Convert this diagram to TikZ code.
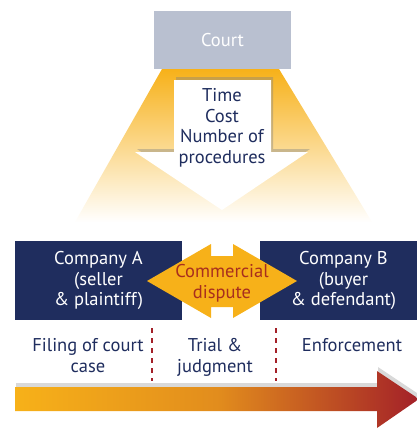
\documentclass[tikz,border=0pt]{standalone}
\usepackage{fontspec}
\setmainfont{PT Sans}
\usetikzlibrary{shadows}
\definecolor{navy}{RGB}{31,45,94}
\definecolor{courtgray}{RGB}{185,192,208}
\definecolor{amber}{RGB}{247,177,25}
\definecolor{rust}{RGB}{163,32,40}
\definecolor{disputered}{RGB}{168,46,30}
\tikzset{
  boxtext/.style={align=center,font=\fontsize{18.5}{20.8}\selectfont},
  companybox/.style={boxtext,fill=navy,text=white,minimum width=167pt,minimum height=79pt,inner sep=0pt},
  phaselabel/.style={boxtext,anchor=north,text=navy,inner sep=0pt},
  phaseline/.style={draw=rust,line width=2pt,dash pattern=on 5pt off 5pt}
}
\begin{document}
\begin{tikzpicture}[x=1pt,y=1pt,yscale=-1,xscale=1]
\useasboundingbox (0,0) rectangle (417,447);

%Shape: light cone under the court
\shade [top color=amber,bottom color=white]  (162,69) -- (279,69) -- (372,222) -- (75,222) -- cycle ;
%Shape: white arrow
\draw [fill=white,draw=none,drop shadow={opacity=0.4,shadow xshift=2pt,shadow yshift=3pt}]  (174,80) -- (271,80) -- (271,152) -- (308,152) -- (222,210) -- (135,152) -- (174,152) -- cycle ;

% Text Node
\node [boxtext,fill=courtgray,text=white,minimum width=137pt,minimum height=58pt,inner sep=0pt] (court) at (222.5,40) {Court};
% Text Node
\node [boxtext,text=navy,anchor=north,inner sep=0pt] (measures) at (222,88) {Time\\Cost\\Number of\\procedures};

% Text Node
\node [companybox] (compA) at (98.5,280.5) {Company A\\(seller\\\& plaintiff)};
% Text Node
\node [companybox] (compB) at (343.5,280.5) {Company B\\(buyer\\\& defendant)};

%Shape: double arrow between the companies
\fill [amber]  (147,281) -- (211,244) -- (211,256) -- (233,256) -- (233,244) -- (297,281) -- (233,318) -- (233,307) -- (211,307) -- (211,318) -- cycle ;
% Text Node
\node [boxtext,text=disputered,inner sep=0pt] (dispute) at (222,283) {Commercial\\dispute};

%Straight Lines
\draw [phaseline]  (152,328) -- (152,381) ;
%Straight Lines
\draw [phaseline]  (276,328) -- (276,381) ;

% Text Node
\node [phaselabel] (filing) at (88,338) {Filing of court\\case};
% Text Node
\node [phaselabel] (trial) at (215,338) {Trial \&\\judgment};
% Text Node
\node [phaselabel] (enforce) at (352,338) {Enforcement};

%Shape: time arrow
\shade [left color=amber,right color=rust,middle color=amber!75!rust,drop shadow={opacity=0.3,shadow xshift=1pt,shadow yshift=4pt}]  (15,387) -- (377,387) -- (377,371) -- (419,399) -- (377,428) -- (377,411) -- (15,411) -- cycle ;

\end{tikzpicture}
\end{document}
